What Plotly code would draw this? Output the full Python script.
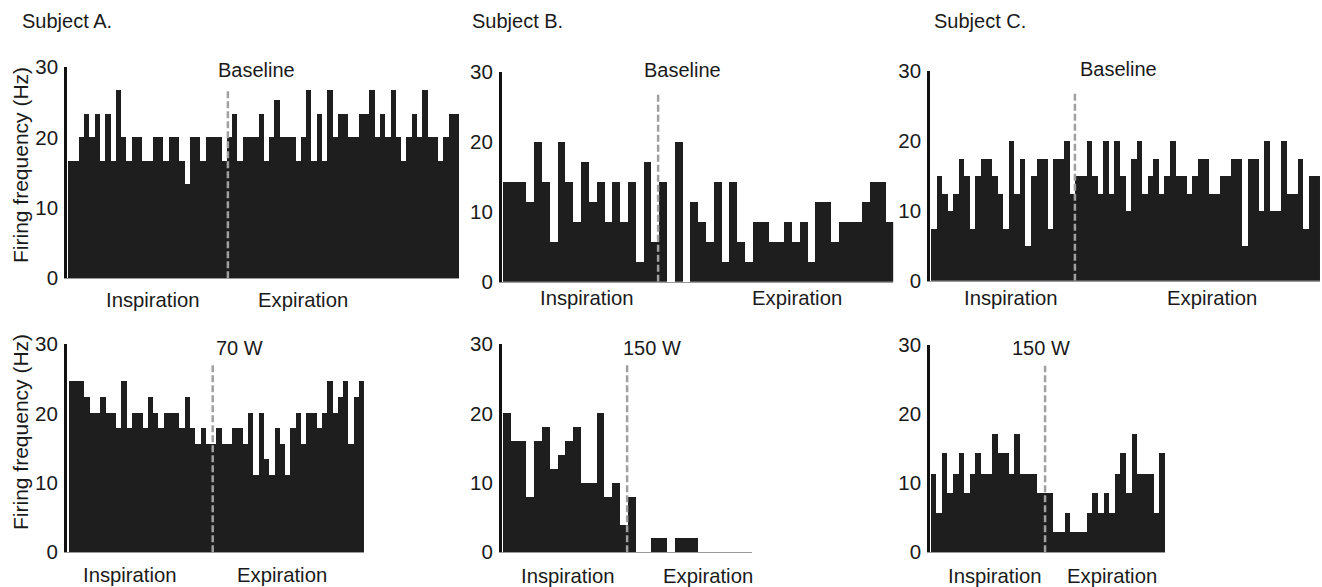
import plotly.graph_objects as go

# ---------------- data (firing frequency, Hz, per bin) ----------------
subject_a_baseline = [16.7, 16.7, 20, 23.3, 20, 23.3, 16.7, 23.3, 16.7, 26.7, 20, 16.7, 20, 20, 16.7,
                      16.7, 20, 20, 16.7, 20, 20, 16.7, 13.3, 20, 20, 16.7, 20, 20, 20, 16.7,
                      20, 23.3, 16.7, 20, 20, 20, 23.3, 16.7, 20, 25.3, 20, 20, 20, 16.7, 20,
                      26.7, 16.7, 23.3, 16.7, 26.7, 20, 23.3, 23.3, 20, 20, 23.3, 23.3, 26.7, 20,
                      23.3, 20, 26.7, 20, 16.7, 20, 23.3, 20, 26.7, 20, 20, 16.7, 20, 23.3, 23.3]
subject_b_baseline = [14.3, 14.3, 14.3, 11.4, 20, 14.3, 5.7, 20, 14.3, 8.6, 17.1, 11.4, 14.3, 8.6, 14.3,
                      8.6, 14.3, 2.9, 17.1, 5.7,
                      14.3, 0, 20, 0, 11.4, 8.6, 5.7, 14.3, 2.9, 14.3, 5.7, 2.9, 8.6, 8.6, 5.7,
                      5.7, 8.6, 5.7, 8.6, 2.9, 11.4, 11.4, 5.7, 8.6, 8.6, 8.6, 11.4, 14.3, 14.3, 8.6]
subject_c_baseline = [7.5, 15, 12.5, 10, 12.5, 17.5, 15, 7.5, 15, 17.5, 17.5, 15, 12.5, 7.5, 20,
                      12.5, 17.5, 5, 15, 17.5, 17.5, 7.5, 17.5, 17.5, 20, 12.5,
                      15, 15, 20, 15, 12.5, 20, 12.5, 20, 15, 10, 17.5, 20, 12.5, 15, 17.5,
                      12.5, 15, 20, 15, 15, 12.5, 15, 17.5, 17.5, 12.5, 12.5, 15, 15, 17.5,
                      17.5, 5, 17.5, 17.5, 10, 20, 10, 10, 20, 12.5, 12.5, 17.5, 7.5, 15, 15]
subject_a_exercise = [24.6, 24.6, 24.6, 22.3, 20.1, 20.1, 22.3, 20.1, 20.1, 17.9, 24.6, 17.9, 20.1, 20.1,
                      17.9, 22.3, 20.1, 17.9, 20.1, 20.1, 20.1, 17.9, 22.3, 17.9, 15.6, 17.9, 15.6,
                      15.6, 17.9, 15.6, 15.6, 17.9, 17.9, 15.6, 20.1, 11.2, 20.1, 13.4, 11.2, 17.9,
                      15.6, 11.2, 17.9, 20.1, 15.6, 20.1, 20.1, 17.9, 20.1, 24.6, 20.1, 22.3, 24.6,
                      15.6, 22.3, 24.6]
subject_b_exercise = [20, 16, 16, 8, 16, 18, 12, 14, 16, 18, 10, 10, 20, 8, 10, 4,
                      8, 0, 0, 2, 2, 0, 2, 2, 2, 0, 0, 0, 0, 0, 0, 0]
subject_c_exercise = [11.4, 5.7, 14.3, 8.6, 11.4, 14.3, 8.6, 11.4, 14.3, 11.4, 11.4, 17.1, 14.3, 14.3,
                      11.4, 17.1, 11.4, 11.4, 11.4, 8.6, 8.6, 8.6,
                      2.9, 2.9, 5.7, 2.9, 2.9, 2.9, 5.7, 8.6, 5.7, 8.6, 5.7, 11.4, 14.3, 8.6, 17.1,
                      11.4, 11.4, 11.4, 5.7, 14.3]

# inspiration / expiration boundary (in bin units)
boundaries = [30.7, 20.4, 26.4, 27.85, 16.45, 21.0]
conditions = ["Baseline", "Baseline", "Baseline", "70 W", "150 W", "150 W"]
subjects = ["Subject A.", "Subject B.", "Subject C."]
y_ticks = [0, 10, 20, 30]

series = [subject_a_baseline, subject_b_baseline, subject_c_baseline,
          subject_a_exercise, subject_b_exercise, subject_c_exercise]

# ---------------- layout geometry (pixels) ----------------
W, H = 1322, 587
FONT = "Liberation Sans, Arial, sans-serif"
BAR = "#1e1e1e"
TXT = "#1a1a1a"

# axis_px, bar_start_px, bin_px, y30_px, y0_px
geom = [
    (67.0, 68.3, 5.284, 67.3, 278.3),
    (501.7, 502.7, 7.81, 71.7, 281.7),
    (930.0, 931.0, 5.557, 70.7, 280.7),
    (66.7, 68.3, 5.28, 344.0, 552.3),
    (501.7, 502.7, 7.80, 344.0, 552.3),
    (930.0, 930.7, 5.579, 345.0, 552.3),
]
# condition label centres, inspiration/expiration label centres
cond_pos = [(256, 70), (682, 70), (1118, 69), (239, 348), (652, 348), (1041, 348)]
phase_pos = [((153, 300), (303, 300)), ((587, 298), (797, 298)), ((1011, 298), (1212, 298)),
             ((130, 575), (282, 575)), ((568, 576), (708, 576)), ((995, 576), (1112, 576))]

fig = go.Figure()
layout = dict(width=W, height=H, autosize=False,
              margin=dict(l=0, r=0, t=0, b=0, pad=0, autoexpand=False),
              paper_bgcolor="white", plot_bgcolor="rgba(0,0,0,0)",
              showlegend=False, bargap=0, font=dict(family=FONT, color=TXT, size=20))
annotations = []
shapes = []

for i, vals in enumerate(series):
    n = len(vals)
    axis_px, bar_px, bin_px, y30, y0 = geom[i]
    r0 = 0.5 - (bar_px - axis_px) / bin_px
    r1 = n + 0.5
    right_px = axis_px + (r1 - r0) * bin_px
    xa = "xaxis" if i == 0 else f"xaxis{i+1}"
    ya = "yaxis" if i == 0 else f"yaxis{i+1}"
    xr = "x" if i == 0 else f"x{i+1}"
    yr = "y" if i == 0 else f"y{i+1}"
    fig.add_trace(go.Bar(x=list(range(1, n + 1)), y=vals, width=1,
                         marker=dict(color=BAR, line=dict(width=0)),
                         xaxis=xr, yaxis=yr, hoverinfo="y"))
    layout[xa] = dict(domain=[axis_px / W, min(right_px / W, 1)], range=[r0, r1], anchor=yr,
                      showline=True, linecolor="#9a9a9a", linewidth=1, showgrid=False,
                      zeroline=False, showticklabels=False, ticks="", fixedrange=True,
                      automargin=False)
    layout[ya] = dict(domain=[1 - y0 / H, 1 - y30 / H], range=[0, 30], anchor=xr,
                      tickvals=y_ticks, ticks="", ticklabelstandoff=2,
                      tickfont=dict(size=20.5, family=FONT, color=TXT),
                      showline=True, linecolor="#111111", linewidth=2.5,
                      showgrid=False, zeroline=False, fixedrange=True, automargin=False)
    shapes.append(dict(type="line", xref=xr, yref=yr, x0=boundaries[i], x1=boundaries[i],
                       y0=0, y1=27, line=dict(color="#a0a0a0", width=2.5, dash="7px,3px"),
                       layer="above"))
    cx, cy = cond_pos[i]
    annotations.append(dict(text=conditions[i], x=cx / W, y=1 - cy / H, xref="paper", yref="paper",
                            showarrow=False, xanchor="center", yanchor="middle",
                            font=dict(size=20, family=FONT, color=TXT)))
    for label, (px, py) in zip(["Inspiration", "Expiration"], phase_pos[i]):
        annotations.append(dict(text=label, x=px / W, y=1 - py / H, xref="paper", yref="paper",
                                showarrow=False, xanchor="center", yanchor="middle",
                                font=dict(size=20.3, family=FONT, color=TXT)))

for s, px in zip(subjects, [20, 470, 932]):
    annotations.append(dict(text=s, x=px / W, y=1 - 21 / H, xref="paper", yref="paper",
                            showarrow=False, xanchor="left", yanchor="middle",
                            font=dict(size=20, family=FONT, color=TXT)))

for cy in [165, 432]:
    annotations.append(dict(text="Firing frequency (Hz)", x=20 / W, y=1 - cy / H,
                            xref="paper", yref="paper", showarrow=False, textangle=-90,
                            xanchor="center", yanchor="middle",
                            font=dict(size=21, family=FONT, color=TXT)))

layout["annotations"] = annotations
layout["shapes"] = shapes
fig.update_layout(**layout)

# pin the graph to the top-left corner of the page so that it fills the window exactly
pin = ("document.body.style.margin='0';document.body.style.overflow='hidden';"
       "var d=document.getElementById('{plot_id}');d.style.position='fixed';"
       "d.style.left='0px';d.style.top='0px';")
fig.write_html("out.html", post_script=pin, config={"displayModeBar": False})
